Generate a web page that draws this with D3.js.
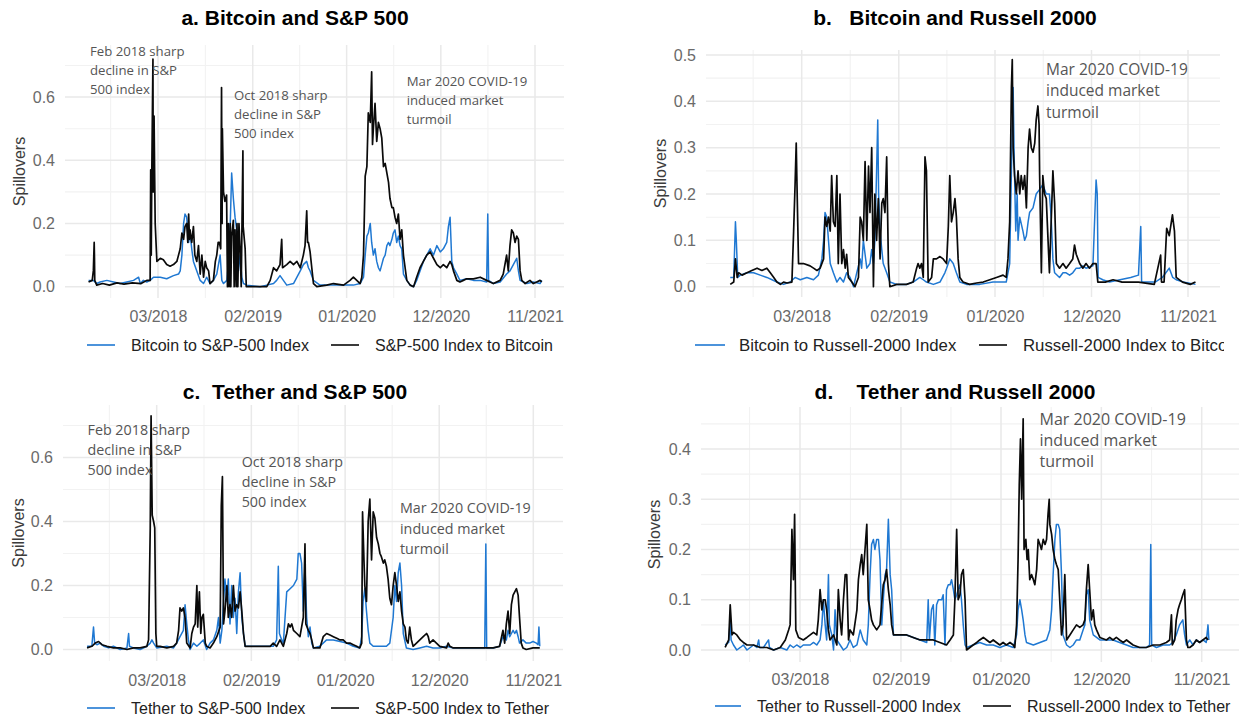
<!DOCTYPE html>
<html>
<head>
<meta charset="utf-8">
<script src="https://cdn.jsdelivr.net/npm/d3@7"></script>
<style>
  body { margin: 0; background: #fff; }
  svg { display: block; font-family: "Liberation Sans", Arial, sans-serif; }
  .grid-major { stroke: #e9e9e9; stroke-width: 1.5; }
  .grid-minor { stroke: #f2f2f2; stroke-width: 1.1; }
</style>
</head>
<body>
<script>
// x values are months since 1 Jul 2017, y values are spillovers
const xTickLabels = ["03/2018", "02/2019", "01/2020", "12/2020", "11/2021"];

// a. Bitcoin and S&P 500
const btcToSp = [[-0.14,0.02],[0.44,0.02],[0.83,0.01],[1.22,0.015],[2.0,0.02],[2.78,0.015],[3.56,0.01],[4.34,0.015],[5.12,0.02],[5.7,0.03],[5.9,0.01],[6.28,0.02],[6.67,0.015],[7.07,0.02],[7.45,0.03],[8.23,0.03],[9.01,0.025],[9.79,0.035],[10.38,0.04],[10.57,0.05],[10.77,0.1],[10.96,0.2],[11.15,0.23],[11.35,0.22],[11.55,0.14],[11.74,0.17],[11.93,0.12],[12.13,0.08],[12.52,0.05],[12.9,0.02],[13.29,0.01],[13.68,0.03],[14.07,0.01],[14.46,0.02],[14.85,0.04],[15.24,0.1],[15.44,0.02],[15.63,0.01],[16.02,0.02],[16.22,0.08],[16.41,0.2],[16.6,0.36],[16.8,0.28],[16.99,0.22],[17.19,0.18],[17.38,0.05],[17.58,0.1],[17.77,0.03],[17.97,0.01],[18.36,0.005],[19.92,0.0],[20.7,0.005],[21.47,0.01],[21.86,0.02],[22.25,0.035],[22.64,0.02],[23.03,0.005],[23.81,0.01],[24.59,0.05],[24.98,0.07],[25.37,0.08],[25.56,0.06],[25.76,0.05],[26.15,0.02],[26.92,0.005],[30.82,0.005],[31.6,0.01],[31.99,0.03],[32.18,0.1],[32.38,0.16],[32.57,0.17],[32.77,0.2],[32.96,0.14],[33.16,0.1],[33.35,0.12],[33.55,0.08],[33.74,0.06],[33.93,0.05],[34.13,0.07],[34.32,0.09],[34.52,0.1],[34.71,0.13],[34.91,0.14],[35.1,0.13],[35.3,0.15],[35.49,0.17],[35.69,0.18],[35.88,0.14],[36.08,0.16],[36.27,0.13],[36.47,0.12],[36.66,0.04],[37.05,0.02],[37.44,0.005],[37.83,0.0],[38.22,0.02],[38.61,0.05],[39.0,0.08],[39.39,0.1],[39.78,0.12],[40.17,0.1],[40.56,0.13],[40.95,0.11],[41.33,0.12],[41.72,0.14],[41.92,0.19],[42.11,0.22],[42.31,0.08],[42.5,0.06],[42.89,0.04],[43.28,0.02],[44.06,0.025],[44.84,0.02],[45.62,0.02],[46.4,0.015],[46.51,0.23],[46.63,0.02],[47.18,0.01],[47.95,0.015],[48.73,0.04],[49.12,0.05],[49.51,0.07],[49.9,0.09],[50.1,0.05],[50.29,0.02],[51.07,0.01],[51.85,0.015],[52.63,0.01],[52.82,0.02]];
const spToBtc = [[-0.14,0.015],[0.3,0.02],[0.44,0.05],[0.52,0.14],[0.56,0.095],[0.6,0.02],[0.83,0.005],[1.5,0.01],[2.3,0.005],[3.2,0.012],[4.0,0.008],[5.0,0.012],[6.0,0.01],[6.67,0.02],[7.07,0.02],[7.14,0.37],[7.2,0.1],[7.26,0.37],[7.38,0.72],[7.42,0.3],[7.53,0.54],[7.6,0.36],[7.65,0.2],[7.84,0.08],[8.23,0.09],[8.62,0.085],[9.01,0.07],[9.4,0.065],[9.79,0.07],[10.18,0.08],[10.38,0.1],[10.57,0.12],[10.77,0.17],[10.96,0.15],[11.15,0.19],[11.35,0.2],[11.45,0.14],[11.55,0.23],[11.65,0.15],[11.74,0.18],[11.93,0.14],[12.13,0.19],[12.3,0.1],[12.52,0.08],[12.71,0.13],[12.9,0.04],[13.1,0.1],[13.29,0.03],[13.5,0.08],[13.68,0.06],[13.88,0.05],[14.07,0.01],[14.46,0.02],[14.7,0.08],[14.85,0.1],[15.0,0.14],[15.16,0.14],[15.3,0.12],[15.4,0.63],[15.46,0.2],[15.52,0.5],[15.63,0.3],[15.8,0.27],[16.0,0.29],[16.1,0.0],[16.2,0.2],[16.3,0.0],[16.41,0.2],[16.5,0.0],[16.6,0.16],[16.8,0.21],[16.9,0.0],[17.0,0.18],[17.1,0.0],[17.2,0.2],[17.3,0.0],[17.45,0.2],[17.58,0.12],[17.7,0.0],[17.89,0.43],[17.95,0.19],[18.16,0.12],[18.3,0.0],[19.0,0.0],[20.0,0.0],[20.7,0.0],[21.08,0.02],[21.47,0.06],[21.86,0.05],[22.25,0.07],[22.45,0.15],[22.55,0.06],[23.03,0.07],[23.42,0.08],[23.81,0.07],[24.2,0.08],[24.59,0.06],[24.98,0.1],[25.17,0.13],[25.37,0.24],[25.45,0.14],[25.56,0.14],[25.76,0.11],[25.95,0.06],[26.15,0.01],[26.53,0.0],[27.7,0.005],[28.48,0.01],[29.65,0.005],[30.43,0.02],[30.82,0.03],[31.21,0.02],[31.6,0.01],[31.79,0.03],[31.99,0.1],[32.18,0.35],[32.38,0.38],[32.57,0.55],[32.77,0.52],[32.96,0.68],[33.05,0.45],[33.16,0.5],[33.35,0.58],[33.55,0.46],[33.74,0.52],[33.93,0.5],[34.13,0.47],[34.32,0.38],[34.52,0.39],[34.71,0.36],[34.91,0.33],[35.1,0.28],[35.3,0.25],[35.49,0.25],[35.69,0.22],[35.88,0.2],[36.08,0.23],[36.27,0.15],[36.47,0.18],[36.66,0.1],[36.86,0.06],[37.05,0.02],[37.44,0.005],[37.83,0.0],[38.22,0.03],[38.61,0.06],[39.0,0.08],[39.39,0.1],[39.78,0.11],[40.17,0.09],[40.56,0.07],[40.95,0.06],[41.33,0.07],[41.72,0.06],[42.11,0.08],[42.31,0.07],[42.5,0.05],[42.89,0.02],[43.28,0.015],[43.67,0.02],[44.06,0.025],[44.84,0.025],[45.62,0.03],[46.4,0.02],[46.79,0.015],[47.18,0.01],[47.95,0.02],[48.34,0.04],[48.73,0.1],[48.93,0.05],[49.12,0.13],[49.32,0.18],[49.51,0.17],[49.71,0.14],[49.9,0.16],[50.1,0.15],[50.29,0.05],[50.49,0.02],[50.88,0.01],[51.46,0.02],[51.85,0.01],[52.24,0.015],[52.63,0.02],[52.82,0.015]];

// b. Bitcoin and Russell 2000
const btcToR2k = [[-0.15,0.02],[0.23,0.02],[0.42,0.14],[0.53,0.1],[0.68,0.02],[0.99,0.025],[1.74,0.03],[2.5,0.03],[3.26,0.025],[4.02,0.02],[4.59,0.015],[5.16,0.01],[5.92,0.005],[6.67,0.01],[7.24,0.02],[7.81,0.015],[8.57,0.02],[9.33,0.015],[9.9,0.025],[10.28,0.06],[10.47,0.1],[10.66,0.16],[10.85,0.15],[11.04,0.1],[11.22,0.05],[11.6,0.03],[11.98,0.01],[12.36,0.02],[12.74,0.01],[13.12,0.03],[13.5,0.02],[13.88,0.0],[14.26,0.03],[14.64,0.06],[14.83,0.04],[15.02,0.1],[15.21,0.07],[15.4,0.04],[15.78,0.05],[15.97,0.08],[16.15,0.05],[16.34,0.1],[16.53,0.25],[16.65,0.36],[16.76,0.2],[16.91,0.12],[17.1,0.08],[17.29,0.05],[17.67,0.03],[18.05,0.01],[18.81,0.005],[19.95,0.005],[20.71,0.01],[21.46,0.02],[21.84,0.015],[22.22,0.01],[22.98,0.005],[23.74,0.01],[24.31,0.03],[24.5,0.04],[24.88,0.06],[25.26,0.05],[25.64,0.03],[26.01,0.01],[26.77,0.005],[28.29,0.005],[29.81,0.01],[31.32,0.01],[31.7,0.05],[31.89,0.25],[32.08,0.43],[32.2,0.3],[32.39,0.12],[32.54,0.2],[32.65,0.1],[32.84,0.15],[33.22,0.12],[33.41,0.1],[33.6,0.11],[33.79,0.14],[33.98,0.16],[34.36,0.17],[34.74,0.2],[35.12,0.21],[35.49,0.22],[35.87,0.2],[36.25,0.2],[36.44,0.15],[36.63,0.06],[36.82,0.03],[37.39,0.02],[37.77,0.03],[38.15,0.03],[38.53,0.025],[38.91,0.03],[39.29,0.04],[39.67,0.04],[40.05,0.045],[40.42,0.04],[41.18,0.045],[41.56,0.23],[41.68,0.2],[41.79,0.02],[42.32,0.015],[43.08,0.01],[45.5,0.02],[46.4,0.025],[46.65,0.13],[46.75,0.01],[47.5,0.01],[48.3,0.01],[49.1,0.02],[49.9,0.04],[50.3,0.02],[50.7,0.015],[51.5,0.01],[52.9,0.005]];
const r2kToBtc = [[-0.15,0.005],[0.23,0.01],[0.42,0.06],[0.61,0.02],[0.8,0.03],[1.18,0.025],[1.74,0.03],[2.31,0.035],[2.88,0.04],[3.45,0.035],[4.02,0.04],[4.4,0.03],[4.78,0.02],[5.16,0.01],[5.54,0.005],[5.92,0.01],[6.3,0.008],[6.86,0.01],[7.05,0.12],[7.24,0.22],[7.36,0.31],[7.43,0.24],[7.62,0.05],[8.19,0.05],[8.95,0.045],[9.33,0.04],[9.71,0.035],[10.09,0.04],[10.47,0.06],[10.66,0.15],[10.85,0.13],[11.04,0.15],[11.22,0.12],[11.41,0.24],[11.6,0.14],[11.79,0.13],[11.98,0.24],[12.17,0.05],[12.36,0.2],[12.55,0.05],[12.74,0.08],[12.93,0.04],[13.12,0.07],[13.31,0.02],[13.69,0.01],[14.07,0.0],[14.45,0.02],[14.64,0.15],[14.83,0.14],[15.02,0.1],[15.21,0.27],[15.4,0.1],[15.59,0.26],[15.78,0.16],[15.97,0.3],[16.15,0.0],[16.34,0.2],[16.53,0.1],[16.72,0.19],[16.91,0.06],[17.1,0.18],[17.29,0.19],[17.48,0.16],[17.67,0.28],[17.86,0.05],[18.05,0.0],[18.81,0.005],[19.95,0.005],[20.71,0.01],[21.09,0.04],[21.27,0.05],[21.46,0.04],[21.65,0.05],[21.84,0.02],[22.03,0.28],[22.22,0.25],[22.41,0.01],[22.79,0.02],[22.98,0.06],[23.36,0.06],[23.74,0.065],[24.12,0.06],[24.5,0.05],[24.69,0.13],[24.88,0.24],[25.07,0.14],[25.26,0.16],[25.45,0.19],[25.64,0.15],[25.82,0.06],[26.01,0.02],[26.39,0.01],[27.15,0.005],[27.91,0.008],[28.67,0.01],[29.43,0.015],[30.19,0.02],[30.94,0.025],[31.32,0.02],[31.51,0.06],[31.7,0.14],[31.89,0.43],[32.01,0.49],[32.08,0.3],[32.27,0.24],[32.46,0.2],[32.65,0.25],[32.84,0.2],[33.03,0.24],[33.22,0.21],[33.41,0.24],[33.6,0.17],[33.79,0.3],[33.98,0.34],[34.17,0.3],[34.36,0.29],[34.55,0.31],[34.74,0.36],[34.93,0.39],[35.04,0.35],[35.12,0.24],[35.31,0.03],[35.49,0.24],[35.68,0.2],[35.87,0.19],[36.25,0.03],[36.63,0.25],[36.82,0.18],[37.01,0.05],[37.39,0.04],[37.77,0.05],[38.15,0.04],[38.53,0.05],[38.91,0.06],[39.1,0.09],[39.29,0.07],[39.67,0.05],[40.05,0.04],[40.42,0.05],[40.8,0.04],[41.18,0.05],[41.56,0.05],[41.75,0.01],[42.6,0.01],[43.5,0.015],[44.5,0.01],[46.4,0.01],[48.2,0.005],[48.9,0.068],[49.0,0.01],[49.3,0.01],[49.6,0.126],[49.9,0.11],[50.25,0.155],[50.5,0.12],[50.7,0.02],[51.4,0.01],[52.3,0.005],[52.9,0.01]];

// c. Tether and S&P 500
const usdtToSp = [[-0.18,0.01],[0.4,0.01],[0.6,0.07],[0.72,0.02],[0.99,0.015],[1.38,0.02],[1.77,0.01],[2.35,0.005],[2.94,0.01],[3.71,0.0],[4.49,0.005],[4.69,0.05],[4.81,0.01],[5.27,0.005],[6.05,0.0],[6.83,0.01],[7.22,0.02],[7.41,0.03],[7.61,0.02],[7.99,0.005],[9.17,0.01],[9.95,0.005],[10.33,0.02],[10.72,0.04],[11.11,0.06],[11.31,0.14],[11.5,0.08],[11.7,0.03],[11.89,0.0],[12.28,0.02],[12.67,0.01],[13.06,0.02],[13.45,0.03],[13.84,0.0],[14.23,0.02],[14.62,0.03],[15.01,0.06],[15.2,0.1],[15.4,0.02],[15.59,0.06],[15.79,0.15],[15.98,0.22],[16.18,0.15],[16.37,0.22],[16.57,0.08],[16.76,0.2],[16.96,0.1],[17.15,0.16],[17.35,0.05],[17.54,0.18],[17.73,0.24],[17.93,0.1],[18.12,0.05],[18.32,0.01],[18.9,0.01],[20.07,0.01],[20.85,0.01],[21.63,0.01],[22.02,0.03],[22.21,0.26],[22.33,0.05],[22.6,0.03],[22.8,0.02],[23.19,0.18],[23.58,0.19],[23.97,0.2],[24.36,0.22],[24.55,0.3],[24.74,0.3],[24.94,0.27],[25.13,0.12],[25.33,0.26],[25.52,0.1],[25.72,0.04],[25.91,0.07],[26.11,0.02],[26.3,0.005],[27.08,0.01],[27.86,0.03],[28.64,0.03],[29.42,0.025],[30.2,0.02],[30.97,0.01],[31.75,0.005],[31.95,0.04],[32.14,0.15],[32.34,0.19],[32.53,0.12],[32.73,0.06],[32.92,0.02],[33.31,0.01],[34.09,0.01],[34.87,0.01],[35.26,0.02],[35.65,0.1],[35.84,0.2],[36.04,0.15],[36.23,0.24],[36.43,0.27],[36.62,0.2],[36.82,0.05],[37.2,0.005],[37.98,0.0],[38.76,0.005],[39.54,0.01],[40.32,0.005],[41.1,0.005],[41.88,0.01],[42.66,0.005],[45.38,0.005],[46.36,0.005],[46.47,0.33],[46.59,0.005],[47.33,0.005],[48.11,0.01],[48.5,0.04],[48.89,0.03],[49.08,0.06],[49.28,0.04],[49.47,0.05],[49.66,0.06],[49.86,0.05],[50.05,0.06],[50.25,0.04],[50.44,0.02],[50.83,0.03],[51.22,0.02],[51.61,0.02],[52.0,0.025],[52.39,0.02],[52.59,0.015],[52.7,0.07],[52.78,0.01]];
const spToUsdt = [[-0.18,0.005],[0.4,0.01],[0.79,0.02],[1.18,0.025],[1.57,0.015],[2.16,0.01],[2.94,0.005],[3.71,0.005],[4.49,0.0],[5.27,0.005],[6.05,0.005],[6.83,0.01],[7.03,0.03],[7.22,0.38],[7.34,0.73],[7.45,0.42],[7.61,0.4],[7.76,0.38],[7.88,0.05],[7.99,0.01],[8.39,0.01],[9.17,0.005],[9.95,0.01],[10.33,0.02],[10.53,0.06],[10.72,0.13],[10.92,0.12],[11.11,0.13],[11.31,0.1],[11.5,0.02],[11.89,0.005],[12.09,0.05],[12.28,0.07],[12.48,0.08],[12.67,0.2],[12.79,0.07],[12.98,0.18],[13.14,0.05],[13.26,0.1],[13.45,0.11],[13.65,0.02],[13.84,0.01],[14.23,0.005],[14.62,0.02],[15.01,0.04],[15.4,0.07],[15.55,0.45],[15.67,0.54],[15.79,0.08],[15.98,0.12],[16.18,0.2],[16.37,0.1],[16.57,0.14],[16.76,0.1],[16.96,0.2],[17.15,0.12],[17.35,0.14],[17.54,0.13],[17.73,0.18],[17.93,0.12],[18.12,0.05],[18.32,0.01],[18.9,0.01],[20.07,0.01],[21.24,0.01],[21.63,0.02],[22.02,0.01],[22.41,0.03],[22.8,0.01],[23.19,0.05],[23.38,0.08],[23.58,0.07],[23.77,0.08],[23.97,0.06],[24.36,0.05],[24.74,0.04],[24.94,0.07],[25.13,0.1],[25.33,0.33],[25.44,0.08],[25.72,0.06],[25.91,0.05],[26.11,0.03],[26.3,0.005],[27.08,0.005],[27.47,0.04],[27.86,0.05],[28.25,0.045],[28.64,0.04],[29.03,0.035],[29.42,0.03],[29.81,0.03],[30.2,0.02],[30.58,0.02],[30.97,0.015],[31.36,0.01],[31.75,0.005],[31.95,0.02],[32.06,0.43],[32.22,0.28],[32.34,0.2],[32.53,0.15],[32.73,0.4],[32.92,0.47],[33.12,0.28],[33.31,0.43],[33.51,0.41],[33.7,0.35],[33.9,0.33],[34.09,0.3],[34.28,0.29],[34.48,0.27],[34.67,0.28],[34.87,0.26],[35.06,0.22],[35.26,0.16],[35.45,0.14],[35.65,0.2],[35.84,0.24],[36.04,0.2],[36.23,0.15],[36.43,0.18],[36.62,0.12],[36.82,0.08],[37.01,0.07],[37.2,0.03],[37.4,0.02],[37.59,0.07],[37.79,0.03],[37.98,0.01],[38.37,0.02],[38.76,0.03],[39.15,0.04],[39.54,0.05],[39.74,0.04],[39.93,0.02],[40.32,0.03],[40.71,0.02],[41.1,0.01],[41.88,0.005],[42.07,0.02],[42.27,0.01],[42.66,0.005],[43.44,0.005],[45.38,0.005],[47.33,0.005],[48.11,0.01],[48.5,0.06],[48.69,0.02],[48.89,0.08],[49.08,0.12],[49.28,0.05],[49.47,0.14],[49.66,0.17],[49.86,0.18],[50.05,0.19],[50.25,0.17],[50.44,0.1],[50.64,0.02],[50.83,0.005],[51.22,0.0],[52.0,0.005],[52.78,0.005]];

// d. Tether and Russell 2000
const usdtToR2k = [[-0.22,0.01],[0.15,0.015],[0.33,0.06],[0.44,0.02],[0.7,0.01],[1.06,0.0],[1.43,0.005],[1.79,0.01],[2.16,0.0],[2.52,0.005],[2.89,0.01],[3.25,0.005],[3.44,0.02],[3.55,0.005],[3.98,0.005],[4.53,0.02],[4.64,0.005],[5.08,0.0],[5.81,0.005],[6.54,0.0],[6.9,0.01],[7.27,0.005],[7.63,0.01],[8.0,0.005],[8.36,0.01],[9.09,0.01],[9.46,0.015],[9.82,0.01],[10.19,0.02],[10.37,0.05],[10.56,0.1],[10.74,0.05],[10.92,0.02],[11.1,0.15],[11.21,0.05],[11.47,0.03],[11.65,0.0],[11.83,0.08],[12.02,0.02],[12.38,0.01],[12.74,0.0],[13.11,0.005],[13.48,0.02],[13.84,0.005],[14.21,0.01],[14.57,0.04],[14.93,0.02],[15.3,0.01],[15.48,0.05],[15.66,0.15],[15.85,0.21],[16.03,0.22],[16.21,0.2],[16.4,0.22],[16.58,0.22],[16.76,0.18],[16.94,0.05],[17.13,0.1],[17.31,0.15],[17.49,0.16],[17.67,0.26],[17.86,0.15],[18.04,0.12],[18.22,0.03],[18.95,0.03],[19.68,0.03],[20.41,0.025],[21.14,0.02],[21.87,0.015],[22.05,0.1],[22.16,0.02],[22.42,0.08],[22.6,0.09],[22.78,0.01],[22.97,0.09],[23.15,0.1],[23.33,0.1],[23.52,0.1],[23.7,0.11],[23.88,0.01],[24.06,0.12],[24.25,0.13],[24.43,0.13],[24.61,0.14],[24.79,0.12],[24.98,0.1],[25.16,0.11],[25.34,0.12],[25.52,0.13],[25.7,0.1],[25.89,0.05],[26.07,0.01],[26.25,0.005],[26.98,0.01],[27.71,0.015],[28.44,0.01],[29.17,0.01],[29.9,0.005],[30.63,0.01],[31.36,0.005],[31.73,0.03],[31.91,0.08],[32.1,0.1],[32.28,0.08],[32.46,0.06],[32.64,0.03],[32.83,0.015],[33.56,0.01],[34.29,0.015],[35.02,0.02],[35.38,0.04],[35.57,0.08],[35.75,0.15],[35.93,0.22],[36.11,0.25],[36.3,0.25],[36.48,0.24],[36.66,0.15],[36.84,0.03],[37.21,0.01],[37.57,0.005],[37.94,0.01],[38.3,0.02],[38.67,0.02],[39.03,0.04],[39.22,0.05],[39.4,0.11],[39.58,0.12],[39.76,0.06],[40.13,0.03],[40.86,0.02],[41.59,0.02],[42.32,0.02],[43.05,0.015],[43.78,0.01],[44.51,0.005],[45.24,0.005],[45.97,0.005],[46.33,0.01],[46.44,0.21],[46.55,0.01],[47.06,0.005],[47.8,0.01],[48.53,0.01],[48.89,0.015],[49.25,0.03],[49.62,0.05],[49.98,0.06],[50.17,0.03],[50.35,0.01],[50.71,0.02],[51.08,0.01],[51.45,0.02],[51.81,0.015],[52.18,0.02],[52.54,0.015],[52.73,0.05],[52.84,0.02]];
const r2kToUsdt = [[-0.22,0.005],[0.15,0.02],[0.33,0.09],[0.51,0.03],[0.7,0.035],[1.06,0.03],[1.43,0.02],[1.79,0.015],[2.16,0.01],[2.89,0.01],[3.62,0.005],[4.35,0.005],[5.08,0.0],[5.81,0.005],[6.36,0.02],[6.72,0.04],[6.9,0.05],[7.09,0.24],[7.27,0.14],[7.38,0.27],[7.52,0.04],[7.82,0.025],[8.36,0.02],[8.73,0.025],[9.09,0.03],[9.46,0.035],[9.82,0.03],[10.0,0.06],[10.19,0.12],[10.37,0.08],[10.56,0.1],[10.74,0.1],[10.92,0.08],[11.1,0.04],[11.28,0.02],[11.65,0.03],[12.02,0.01],[12.2,0.12],[12.38,0.06],[12.56,0.03],[12.74,0.1],[12.93,0.15],[13.11,0.15],[13.29,0.02],[13.48,0.04],[13.84,0.03],[14.21,0.08],[14.39,0.14],[14.57,0.17],[14.75,0.19],[14.93,0.15],[15.12,0.2],[15.3,0.25],[15.48,0.1],[15.66,0.08],[15.85,0.06],[16.03,0.05],[16.4,0.04],[16.76,0.05],[17.13,0.13],[17.31,0.14],[17.49,0.16],[17.67,0.12],[17.86,0.09],[18.04,0.05],[18.22,0.03],[18.95,0.03],[19.68,0.03],[20.41,0.025],[21.14,0.02],[21.87,0.02],[22.6,0.02],[23.33,0.015],[24.06,0.01],[24.43,0.02],[24.79,0.03],[24.98,0.1],[25.16,0.24],[25.34,0.1],[25.52,0.11],[25.7,0.15],[25.89,0.16],[26.07,0.1],[26.25,0.0],[26.62,0.005],[26.98,0.01],[27.35,0.015],[27.71,0.02],[28.08,0.025],[28.44,0.02],[28.81,0.015],[29.17,0.02],[29.54,0.015],[29.9,0.01],[30.27,0.015],[30.63,0.01],[31.0,0.015],[31.36,0.01],[31.55,0.005],[31.73,0.05],[31.91,0.18],[32.02,0.33],[32.17,0.42],[32.28,0.3],[32.46,0.46],[32.57,0.2],[32.75,0.22],[32.9,0.18],[33.01,0.2],[33.19,0.14],[33.37,0.15],[33.56,0.14],[33.74,0.13],[33.92,0.16],[34.1,0.22],[34.29,0.21],[34.47,0.2],[34.65,0.22],[34.84,0.21],[35.02,0.22],[35.2,0.27],[35.31,0.3],[35.38,0.25],[35.57,0.23],[35.75,0.2],[35.93,0.18],[36.11,0.17],[36.3,0.16],[36.48,0.1],[36.66,0.03],[36.84,0.05],[37.03,0.15],[37.21,0.02],[37.57,0.03],[37.94,0.04],[38.3,0.05],[38.67,0.045],[39.03,0.05],[39.22,0.06],[39.4,0.12],[39.58,0.17],[39.76,0.12],[39.95,0.06],[40.13,0.08],[40.31,0.05],[40.49,0.04],[40.86,0.025],[41.59,0.02],[41.95,0.025],[42.32,0.02],[42.69,0.025],[43.05,0.02],[43.42,0.015],[43.78,0.02],[44.51,0.01],[45.24,0.005],[45.97,0.005],[46.7,0.01],[47.43,0.01],[48.16,0.015],[48.53,0.02],[48.71,0.07],[48.82,0.01],[49.07,0.02],[49.25,0.06],[49.44,0.08],[49.62,0.09],[49.8,0.1],[49.98,0.11],[50.17,0.12],[50.35,0.02],[50.53,0.005],[50.71,0.005],[51.08,0.01],[51.45,0.02],[51.81,0.015],[52.18,0.02],[52.54,0.025],[52.73,0.02]];

const spAnnotations = [
  ["Feb 2018 sharp", "decline in S&P", "500 index"],
  ["Oct 2018 sharp", "decline in S&P", "500 index"],
  ["Mar 2020 COVID-19", "induced market", "turmoil"]
];

const BLUE = "#1f78d2", BLACK = "#0a0a0a";

const parseTick = d3.timeParse("%m/%Y");
const tickDates = xTickLabels.map(parseTick);
const monthToDate = m => d3.timeDay.offset(new Date(2017, 6, 1), Math.round(m * 30.44));
const minorDates = tickDates.map((d, i) => {
  const prev = i ? tickDates[i - 1] : new Date(2 * d - tickDates[1]);
  return new Date((+prev + +d) / 2);
});

// layout of each panel (pixels)
const panels = [
  { title: "a. Bitcoin and S&P 500", tx: 295, ty: 18,
    blue: btcToSp, black: spToBtc,
    legend: ["Bitcoin to S&P-500 Index", "S&P-500 Index to Bitcoin"],
    xr: [158, 535], yr: [286.7, 97.1], yRef: 0.6,
    left: 65, right: 564, top: 45, bottom: 298,
    yTicks: [0, 0.2, 0.4, 0.6], yMinor: [0.1, 0.3, 0.5, 0.7],
    tickY: 316.7, yLabX: 19, legY: 345, legSize: 16, leg: [87, 115, 131, 331, 359, 375],
    notes: [[0, 90, 51.7, 19], [1, 234, 95, 19], [2, 406.7, 81.7, 19]], noteSize: 13.2 },
  { title: "b.   Bitcoin and Russell 2000", tx: 955, ty: 18,
    blue: btcToR2k, black: r2kToBtc,
    legend: ["Bitcoin to Russell-2000 Index", "Russell-2000 Index to Bitcoin"],
    xr: [801.7, 1188], yr: [286.7, 55], yRef: 0.5,
    left: 706, right: 1220, top: 50, bottom: 297,
    yTicks: [0, 0.1, 0.2, 0.3, 0.4, 0.5], yMinor: [0.05, 0.15, 0.25, 0.35, 0.45],
    tickY: 316, yLabX: 660, legY: 345, legSize: 16.8, leg: [695, 725, 739, 979, 1007, 1023],
    notes: [[2, 1046, 69.3, 21.7]], noteSize: 15.5, clip: 1224 },
  { title: "c.  Tether and S&P 500", tx: 295, ty: 391.7,
    blue: usdtToSp, black: spToUsdt,
    legend: ["Tether to S&P-500 Index", "S&P-500 Index to Tether"],
    xr: [156.7, 533.3], yr: [649.5, 457.5], yRef: 0.6,
    left: 63, right: 563, top: 405, bottom: 661,
    yTicks: [0, 0.2, 0.4, 0.6], yMinor: [0.1, 0.3, 0.5, 0.7],
    tickY: 680, yLabX: 18, legY: 708, legSize: 16, leg: [87, 115, 131, 331, 359, 375],
    notes: [[0, 87.5, 429.5, 20.3], [1, 241.7, 461.5, 20], [2, 400, 508.3, 20.5]], noteSize: 14.3 },
  { title: "d.    Tether and Russell 2000", tx: 955, ty: 391.7,
    blue: usdtToR2k, black: r2kToUsdt,
    legend: ["Tether to Russell-2000 Index", "Russell-2000 Index to Tether"],
    xr: [800, 1201.7], yr: [650, 449], yRef: 0.4,
    left: 701, right: 1239, top: 407, bottom: 662,
    yTicks: [0, 0.1, 0.2, 0.3, 0.4], yMinor: [0.05, 0.15, 0.25, 0.35, 0.45],
    tickY: 679.3, yLabX: 654, legY: 706, legSize: 16, leg: [715, 741, 757, 983, 1011, 1027],
    notes: [[2, 1039.5, 419.3, 21]], noteSize: 16 }
];

const svg = d3.select("body").append("svg")
  .attr("width", 1239).attr("height", 719);

panels.forEach((p, i) => {
  const x = d3.scaleTime().domain([tickDates[0], tickDates[tickDates.length - 1]]).range(p.xr);
  const y = d3.scaleLinear().domain([0, p.yRef]).range(p.yr);
  const g = svg.append("g");

  // grid
  g.selectAll(".hmin").data(p.yMinor.filter(v => y(v) > p.top)).join("line")
    .attr("class", "grid-minor")
    .attr("x1", p.left).attr("x2", p.right)
    .attr("y1", d => y(d)).attr("y2", d => y(d));
  g.selectAll(".vmin").data(minorDates.filter(d => x(d) > p.left)).join("line")
    .attr("class", "grid-minor")
    .attr("x1", d => x(d)).attr("x2", d => x(d))
    .attr("y1", p.top).attr("y2", p.bottom);
  g.selectAll(".hmaj").data(p.yTicks).join("line")
    .attr("class", "grid-major")
    .attr("x1", p.left).attr("x2", p.right)
    .attr("y1", d => y(d)).attr("y2", d => y(d));
  g.selectAll(".vmaj").data(tickDates).join("line")
    .attr("class", "grid-major")
    .attr("x1", d => x(d)).attr("x2", d => x(d))
    .attr("y1", p.top).attr("y2", p.bottom);

  // series
  const line = d3.line()
    .x(d => x(monthToDate(d[0])))
    .y(d => y(d[1]));
  g.append("path").datum(p.blue).attr("d", line)
    .attr("fill", "none").attr("stroke", BLUE).attr("stroke-width", 1.5)
    .attr("stroke-linejoin", "round");
  g.append("path").datum(p.black).attr("d", line)
    .attr("fill", "none").attr("stroke", BLACK).attr("stroke-width", 1.7)
    .attr("stroke-linejoin", "round");

  // axes
  const xAxis = g.append("g")
    .attr("transform", `translate(0,${p.tickY - 5.7})`)
    .call(d3.axisBottom(x).tickValues(tickDates).tickFormat(d3.timeFormat("%m/%Y")).tickSize(0).tickPadding(0));
  const yAxis = g.append("g")
    .attr("transform", `translate(${p.left},0)`)
    .call(d3.axisLeft(y).tickValues(p.yTicks).tickFormat(d3.format(".1f")).tickSize(0).tickPadding(10));
  [xAxis, yAxis].forEach(a => {
    a.select(".domain").remove();
    a.attr("font-family", null).attr("font-size", null);
    a.selectAll("text").attr("font-size", 16).attr("fill", "#6a6a6a");
  });

  g.append("text")
    .attr("transform", `translate(${p.yLabX},${(p.top + p.bottom) / 2}) rotate(-90)`)
    .attr("text-anchor", "middle").attr("dy", "0.35em")
    .attr("font-size", 16).attr("fill", "#3c3c3c")
    .text("Spillovers");

  // title
  g.append("text")
    .attr("x", p.tx).attr("y", p.ty).attr("dy", "0.35em")
    .attr("text-anchor", "middle")
    .attr("font-size", 21).attr("font-weight", "bold").attr("fill", "#000")
    .style("white-space", "pre")
    .text(p.title);

  // annotations
  p.notes.forEach(([k, nx, ny, lh]) => {
    const t = g.append("text")
      .attr("font-family", "'Open Sans', sans-serif")
      .attr("font-size", p.noteSize).attr("fill", "#555");
    spAnnotations[k].forEach((s, j) => {
      t.append("tspan").attr("x", nx).attr("y", ny + j * lh).attr("dy", "0.35em").text(s);
    });
  });

  // legend
  const lg = g.append("g");
  if (p.clip) {
    svg.append("clipPath").attr("id", "clip" + i)
      .append("rect").attr("x", 0).attr("y", 0).attr("width", p.clip).attr("height", 719);
    lg.attr("clip-path", `url(#clip${i})`);
  }
  const [b0, b1, bt, k0, k1, kt] = p.leg;
  const items = [
    { c: BLUE, x0: b0, x1: b1, tx: bt, label: p.legend[0] },
    { c: BLACK, x0: k0, x1: k1, tx: kt, label: p.legend[1] }
  ];
  lg.selectAll("line").data(items).join("line")
    .attr("x1", d => d.x0).attr("x2", d => d.x1)
    .attr("y1", p.legY).attr("y2", p.legY)
    .attr("stroke", d => d.c).attr("stroke-width", 1.6);
  lg.selectAll("text").data(items).join("text")
    .attr("x", d => d.tx).attr("y", p.legY).attr("dy", "0.35em")
    .attr("font-size", p.legSize).attr("fill", "#222")
    .text(d => d.label);
});
</script>
</body>
</html>
